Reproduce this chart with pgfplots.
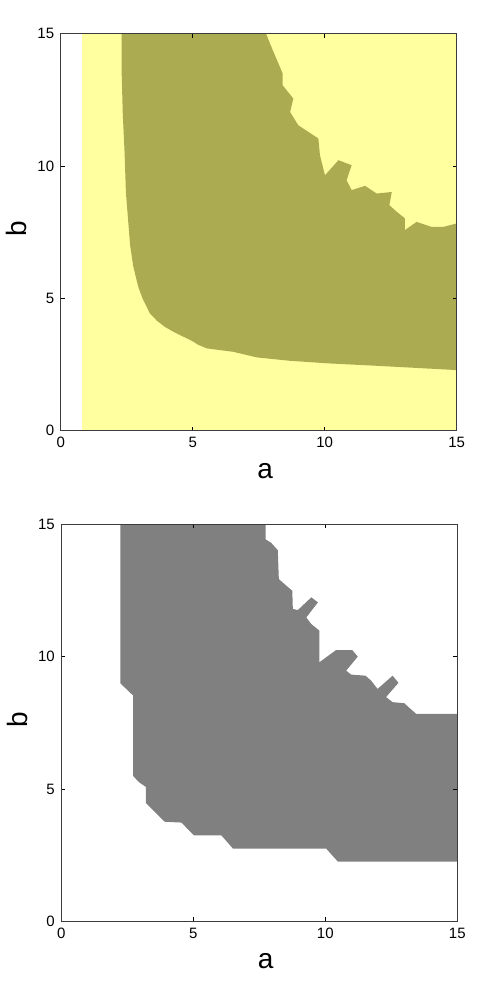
\documentclass[border=0pt]{standalone}
\usepackage{pgfplots}
\pgfplotsset{compat=1.18}
\usepackage{fontspec}
\setmainfont{Liberation Sans}
\definecolor{olive}{RGB}{171,171,82}
\definecolor{lightyel}{RGB}{255,255,160}
\definecolor{fillgray}{RGB}{128,128,128}
\definecolor{framegray}{RGB}{60,60,60}
\pgfplotsset{
  myaxis/.style={
    scale only axis, width=396pt, height=397pt,
    xmin=0, xmax=15, ymin=0, ymax=15,
    xtick={0,5,10,15}, ytick={0,5,10,15},
    tick align=inside, tick pos=both,
    major tick length=4pt,
    axis line style={framegray, line width=0.9pt},
    every tick/.style={black, line width=0.8pt},
    axis on top,
    /pgf/number format/assume math mode=true,
    tick label style={font=\fontsize{15}{18}\selectfont},
    xticklabel style={yshift=-3pt},
    yticklabel style={xshift=-3pt},
    label style={font=\fontsize{28}{32}\selectfont},
    xlabel={a}, ylabel={b},
    xlabel style={at={(axis description cs:0.516,-0.101)}, anchor=center},
    ylabel style={at={(axis description cs:-0.111,0.509)}, anchor=center},
  }
}
\begin{document}
\begin{tikzpicture}[x=1pt,y=1pt]
\path[use as bounding box] (0,0) rectangle (488,984);
% top panel
\begin{axis}[myaxis, at={(60.7pt,553.3pt)}, anchor=south west]
\addplot[fill=lightyel, draw=none] coordinates {(0.8,0) (15,0) (15,15) (0.8,15)} -- cycle;
\addplot[fill=olive, draw=none] coordinates {
(2.31,15) (2.31,13.5) (2.35,12) (2.42,10.5) (2.47,9) (2.55,8) (2.63,7) (2.75,6.2)
(2.94,5.43) (3.1,5.0) (3.38,4.43) (3.65,4.15) (3.95,3.92) (4.3,3.72) (4.65,3.55)
(4.96,3.40) (5.2,3.25) (5.53,3.11) (6.54,2.98) (7.42,2.77) (8.69,2.64) (10.2,2.54)
(12.2,2.44) (15,2.29)
(15,7.83) (14.49,7.70) (14.05,7.70) (13.48,7.89) (13.04,7.58) (13.04,8.02) (12.73,8.27)
(12.45,8.52) (12.54,9.02) (11.97,8.96) (11.53,9.25) (11.02,9.09) (10.83,9.46) (11.02,10.03)
(10.52,10.22) (10.01,9.65) (9.82,10.41) (9.76,11.04) (9.0,11.54) (8.69,12.04) (8.81,12.55)
(8.41,13.05) (8.41,13.49) (7.93,14.62) (7.78,15)
} -- cycle;
\end{axis}
% bottom panel
\begin{axis}[myaxis, at={(61.3pt,62.7pt)}, anchor=south west]
\addplot[fill=fillgray, draw=none] coordinates {
(2.24,15) (2.24,8.99) (2.72,8.53) (2.72,5.49) (2.95,5.25) (3.20,5.08) (3.20,4.47)
(3.92,3.76) (4.55,3.73) (5.02,3.25) (6.06,3.25) (6.50,2.75) (10.03,2.75) (10.48,2.25)
(15,2.25)
(15,7.84) (13.44,7.84) (13.2,8.05) (12.99,8.24) (12.55,8.28) (12.30,8.47) (12.77,9.01)
(12.55,9.28) (11.98,8.78) (11.73,9.1) (11.52,9.28) (10.98,9.32) (10.79,9.47) (11.23,10.0)
(11.02,10.25) (10.41,10.25) (9.78,9.79) (9.78,10.98) (9.47,11.23) (9.28,11.48)
(9.72,12.05) (9.47,12.24) (8.96,11.76) (8.77,11.80) (8.75,12.49) (8.5,12.7) (8.24,12.93)
(8.20,14.02) (7.95,14.3) (7.74,14.43) (7.74,15)
} -- cycle;
\end{axis}
\end{tikzpicture}
\end{document}
